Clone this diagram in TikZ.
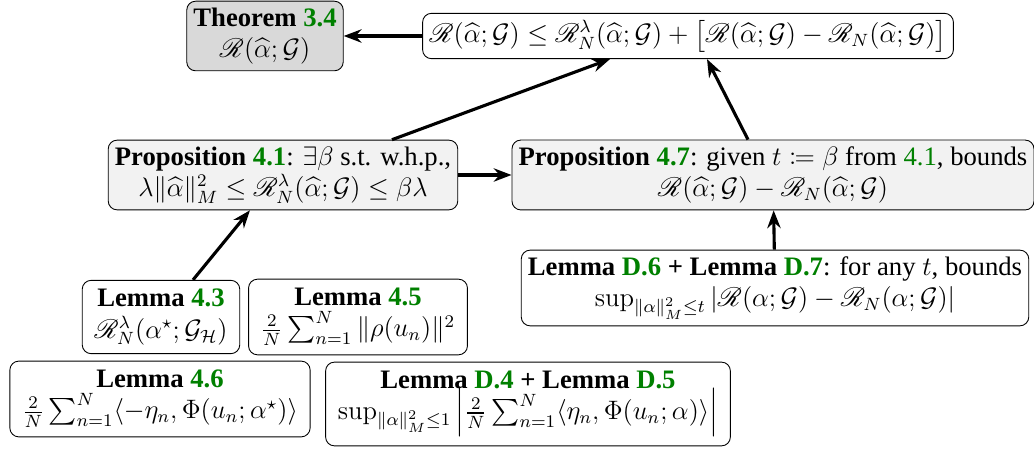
\documentclass[tikz,border=0pt]{standalone}
\usepackage{amsmath}
\usepackage{amssymb}
\usepackage{mathtools}
\usepackage{mathrsfs}
\usepackage[no-math]{fontspec}
\setmainfont{Liberation Serif}
\usepackage{tikz}
\usetikzlibrary{arrows.meta, positioning, calc}
\definecolor{refgreen}{rgb}{0.0, 0.5, 0.0}
\definecolor{boxgray}{rgb}{0.85, 0.85, 0.85}
\definecolor{boxlight}{rgb}{0.95, 0.95, 0.95}
\newcommand{\rf}[1]{\textcolor{refgreen}{#1}}
\newcommand{\Rk}{\mathscr{R}}
\newcommand{\ah}{\widehat{\alpha}}
\newcommand{\Gc}{\mathcal{G}}
\tikzset{
  res/.style={draw=black, rounded corners=4pt, align=center, inner sep=3pt, font=\large, fill=white},
  thm/.style={res, fill=boxgray},
  prop/.style={res, fill=boxlight},
  lem/.style={res, inner xsep=5.5pt, inner ysep=4pt},
  arrow/.style={line width=1.4pt, -{Stealth[length=8pt, width=6pt]}}
}

\begin{document}
\begin{tikzpicture}[x=0.45pt, y=-0.45pt]
    \useasboundingbox (0,0) rectangle (1034,449);
    % top row
    \node[thm] (thm34) at (265,36) {\textbf{Theorem \rf{3.4}}\\ $\Rk(\ah;\Gc)$};
    \node[res] (decomp) at (688,36) {$\Rk(\ah;\Gc) \le \Rk^{\lambda}_N(\ah;\Gc) + \big[\Rk(\ah;\Gc) - \Rk_N(\ah;\Gc)\big]$};
    % propositions
    \node[prop] (prop41) at (283,175) {\textbf{Proposition \rf{4.1}}: $\exists\beta$ s.t. w.h.p.,\\ $\lambda\|\ah\|_M^2 \le \Rk^{\lambda}_N(\ah;\Gc) \le \beta\lambda$};
    \node[prop] (prop47) at (773,175) {\textbf{Proposition \rf{4.7}}: given $t \coloneqq \beta$ from \rf{4.1}, bounds\\ $\Rk(\ah;\Gc) - \Rk_N(\ah;\Gc)$};
    % lemmas
    \node[res] (lemD6) at (775,288) {\textbf{Lemma \rf{D.6} + Lemma \rf{D.7}}: for any $t$, bounds\\ $\sup_{\|\alpha\|_M^2 \le t} |\Rk(\alpha;\Gc) - \Rk_N(\alpha;\Gc)|$};
    \node[lem] (lem43) at (161,317) {\textbf{Lemma \rf{4.3}}\\ $\Rk^{\lambda}_N(\alpha^{\star};\Gc_{\mathcal{H}})$};
    \node[lem] (lem45) at (358,317) {\textbf{Lemma \rf{4.5}}\\ $\frac{2}{N}\sum_{n=1}^{N} \|\rho(u_n)\|^2$};
    \node[lem] (lem46) at (160,399) {\textbf{Lemma \rf{4.6}}\\ $\frac{2}{N}\sum_{n=1}^{N} \langle -\eta_n, \Phi(u_n;\alpha^{\star})\rangle$};
    \node[lem] (lemD4) at (528,404) {\textbf{Lemma \rf{D.4} + Lemma \rf{D.5}}\\ $\sup_{\|\alpha\|_M^2 \le 1} \left|\frac{2}{N}\sum_{n=1}^{N} \langle \eta_n, \Phi(u_n;\alpha)\rangle\right|$};
    % connectors
    \draw[arrow] (decomp) -- (thm34);
    \draw[arrow] ($(prop41.north)+(109,0)$) -- ($(decomp.south)+(-78,0)$);
    \draw[arrow] (prop41) -- (prop47);
    \draw[arrow] ($(lem43.north)+(32,0)$) -- ($(prop41.south)+(-33,0)$);
    \draw[arrow] (lemD6) -- (prop47);
    \draw[arrow] ($(prop47.north)+(-25,0)$) -- ($(decomp.south)+(19,0)$);
\end{tikzpicture}
\end{document}
